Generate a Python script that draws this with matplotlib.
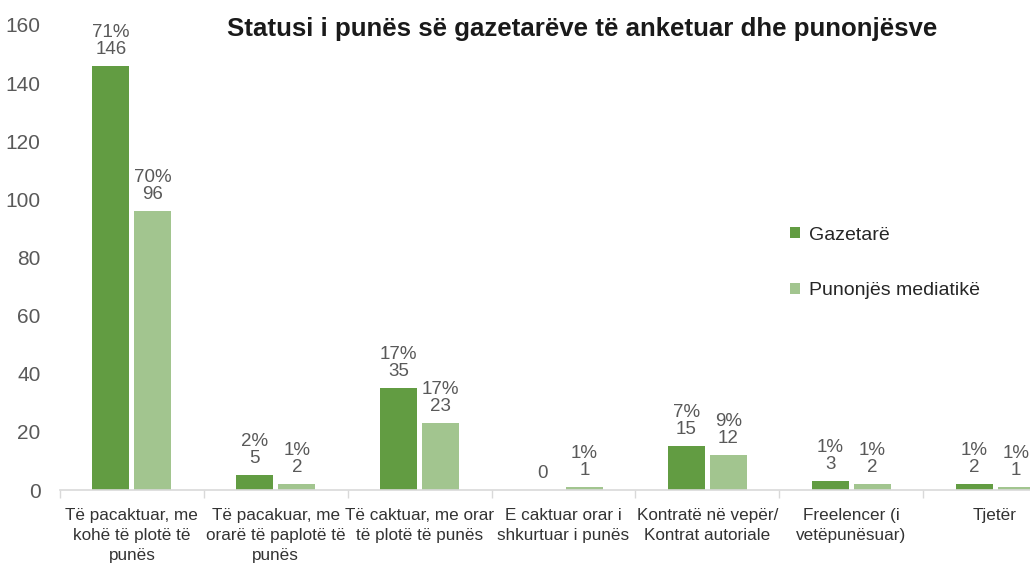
import matplotlib
matplotlib.use("Agg")
import matplotlib.pyplot as plt
import numpy as np

categories = [
    "Të pacaktuar, me\nkohë të plotë të\npunës",
    "Të pacakuar, me\norarë të paplotë të\npunës",
    "Të caktuar, me orar\ntë plotë të punës",
    "E caktuar orar i\nshkurtuar i punës",
    "Kontratë në vepër/\nKontrat autoriale",
    "Freelencer (i\nvetëpunësuar)",
    "Tjetër",
]
gazetare = [146, 5, 35, 0, 15, 3, 2]
punonjes = [96, 2, 23, 1, 12, 2, 1]
gazetare_pct = ["71%", "2%", "17%", "", "7%", "1%", "1%"]
punonjes_pct = ["70%", "1%", "17%", "1%", "9%", "1%", "1%"]
series_names = ["Gazetarë", "Punonjës mediatikë"]
yticks = [0, 20, 40, 60, 80, 100, 120, 140, 160]
title = "Statusi i punës së gazetarëve të anketuar dhe punonjësve"

body_font = "Liberation Sans"

dark = "#629C42"
light = "#A2C58F"
txt = "#595959"

fig = plt.figure(figsize=(10.30, 5.69), dpi=100)
ax = fig.add_axes([60/1030, 79/569, 1007/1030, 465/569])

x = np.arange(len(categories))
w = 0.257
off = 0.146
ax.bar(x - off, gazetare, w, color=dark, label=series_names[0], zorder=2)
ax.bar(x + off, punonjes, w, color=light, label=series_names[1], zorder=2)

for xi, v, p in zip(x, gazetare, gazetare_pct):
    s = f"{p}\n{v}" if p else f"{v}"
    ax.text(xi - off, v + 2.8, s, ha="center", va="bottom", fontsize=13.5,
            color=txt, family=body_font, linespacing=1.0)
for xi, v, p in zip(x, punonjes, punonjes_pct):
    s = f"{p}\n{v}" if p else f"{v}"
    ax.text(xi + off, v + 2.8, s, ha="center", va="bottom", fontsize=13.5,
            color=txt, family=body_font, linespacing=1.0)

ax.set_xlim(-0.5, len(categories) - 0.5)
ax.set_ylim(0, 160)
ax.set_yticks(yticks)
ax.set_yticklabels([str(t) for t in yticks], fontsize=15, color=txt, family=body_font)
ax.tick_params(axis="y", length=0, pad=14)

ax.set_xticks(x)
ax.set_xticklabels(categories, fontsize=12.3, color="#333333", family=body_font, linespacing=1.4)
ax.tick_params(axis="x", length=0, pad=13)
ax.set_xticks(np.arange(len(categories) + 1) - 0.5, minor=True)
ax.tick_params(axis="x", which="minor", length=6, color="#D9D9D9", width=1)

for s in ["top", "right", "left"]:
    ax.spines[s].set_visible(False)
ax.spines["bottom"].set_color("#D9D9D9")
ax.spines["bottom"].set_linewidth(1.2)

fig.text(582/1030, 1 - 29/569, title, ha="center", va="center", fontsize=18.6,
         fontweight="bold", color="#1a1a1a", family=body_font)

ax.legend(loc="upper left", bbox_to_anchor=(772/1030, (569-209)/569),
          bbox_transform=fig.transFigure, frameon=False,
          handlelength=0.55, handleheight=0.55, handletextpad=0.45, labelspacing=2.0,
          prop={"family": body_font, "size": 14})
for t in ax.get_legend().get_texts():
    t.set_color("#262626")

fig.savefig("out.png", dpi=100)
